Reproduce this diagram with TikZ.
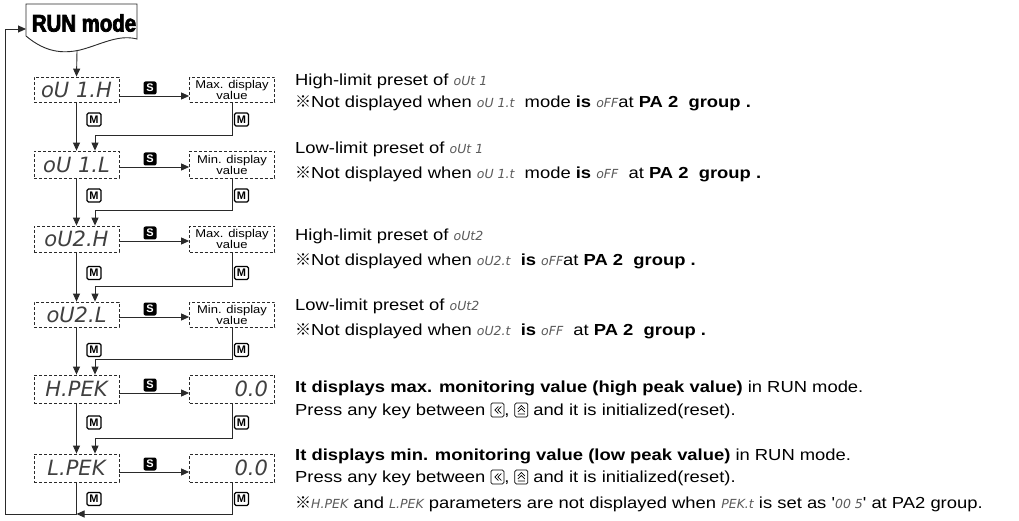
\documentclass[tikz,border=0pt]{standalone}
\usepackage{fontspec}
\setmainfont{Liberation Sans}
\newfontfamily\descfont{Liberation Sans}[FakeStretch=1.15]
\newfontfamily\runfont{Liberation Sans Bold}[FakeStretch=0.85,FakeBold=3]
\newfontfamily\segfont{DejaVu Sans}
\newfontfamily\rmkfont{Noto Sans CJK SC}
\usetikzlibrary{arrows.meta,calc}
\definecolor{linec}{HTML}{2A2A2A}
\definecolor{segc}{HTML}{5A5A5A}
\newcommand{\segtxt}[1]{{\segfont\itshape\fontsize{12.5}{12.5}\selectfont\color{segc}#1}}
\newcommand{\dispfnt}{\segfont\itshape\fontsize{21}{21}\selectfont\color{black!75}}
\newcommand{\refmk}{{\rmkfont ※}}
\newcommand{\keyL}{\tikz[x=1pt,y=1pt,baseline=1.5pt,line width=0.7pt]{\draw[rounded corners=1.5pt] (0,0) rectangle (13,14); \draw (7.5,3.5)--(4,7)--(7.5,10.5) (10.5,3.5)--(7,7)--(10.5,10.5);}}
\newcommand{\keyU}{\tikz[x=1pt,y=1pt,baseline=1.5pt,line width=0.7pt]{\draw[rounded corners=1.5pt] (0,0) rectangle (13,14); \draw (3,5)--(6.5,8.5)--(10,5) (3,8)--(6.5,11.5)--(10,8) (3,3)--(10,3);}}
\begin{document}
\begin{tikzpicture}[x=1pt,y=-1pt,
  disp/.style={draw=linec, dash pattern=on 3pt off 2pt, line width=0.8pt, minimum width=85pt, inner sep=0pt},
  arr/.style={draw=linec, line width=0.9pt, -{Triangle[length=8pt,width=7pt]}},
  ln/.style={draw=linec, line width=0.9pt},
  skey/.style={fill=black, rounded corners=2pt, minimum width=13pt, minimum height=13pt, inner sep=0pt, text=white, font=\fontsize{11}{11}\selectfont\bfseries},
  mkey/.style={draw=black, line width=1.1pt, fill=white, rounded corners=1.5pt, minimum width=14pt, minimum height=13pt, inner sep=0pt, font=\fontsize{11}{11}\selectfont\bfseries},
  desc/.style={anchor=base west, inner sep=0pt, font=\descfont\fontsize{16}{16}\selectfont},
  small/.style={align=center, font=\descfont\fontsize{11.3}{11}\selectfont}
]
\useasboundingbox (0,0) rectangle (1019,521);
\fill[white] (0,0) rectangle (1019,521);

% RUN mode document shape
\draw[line width=0.9pt, draw=linec] (26,36) -- (26,4) -- (137,4) -- (137,39)
  .. controls (118,34) and (100,45) .. (80,50)
  .. controls (62,54) and (45,52) .. (26,36);
\node (run) at (84,23) {\runfont\fontsize{24}{24}\selectfont RUN mode};
\coordinate (runout) at (77,51);
\coordinate (runin) at (26,29);

% left display boxes
\node[disp, minimum height=25pt] (L1) at (76.5,89.5) {\dispfnt oU 1.H};
\node[disp, minimum height=27pt] (L2) at (76.5,164.5) {\dispfnt oU 1.L};
\node[disp, minimum height=26pt] (L3) at (76.5,239) {\dispfnt oU2.H};
\node[disp, minimum height=25pt] (L4) at (76.5,314.5) {\dispfnt oU2.L};
\node[disp, minimum height=28pt] (L5) at (76.5,389) {\dispfnt H.PEK};
\node[disp, minimum height=28pt] (L6) at (76.5,468) {\dispfnt L.PEK};

% right boxes
\node[disp, small, minimum height=25pt] (R1) at (232,89.5) {Max. display\\value};
\node[disp, small, minimum height=27pt] (R2) at (232,164.5) {Min. display\\value};
\node[disp, small, minimum height=26pt] (R3) at (232,239) {Max. display\\value};
\node[disp, small, minimum height=25pt] (R4) at (232,314.5) {Min. display\\value};
\node[disp, minimum height=28pt, text width=72pt, align=right] (R5) at (232,389) {\dispfnt 0.0};
\node[disp, minimum height=28pt, text width=72pt, align=right] (R6) at (232,468) {\dispfnt 0.0};

% S arrows
\foreach \i/\y in {1/96,2/167,3/241,4/317,5/393,6/472}{
  \draw[arr] (L\i.east |- 0,\y) -- (R\i.west |- 0,\y);
  \node[skey] (S\i) at (150,\y-8) {S};
}

% RUN -> first
\draw[arr] (runout) -- (L1.north);

% M transitions
\foreach \i/\j in {1/2,2/3,3/4,4/5,5/6}{
  \draw[arr] (L\i.south) -- (L\j.north);
  \draw[arr] (R\i.south) |- ([xshift=18.5pt,yshift=15pt]L\j.north) -- ([xshift=18.5pt]L\j.north);
}
\foreach \i/\y in {1/119.5,2/195.5,3/273,4/350,5/422.5,6/499}{
  \node[mkey] (ML\i) at (94,\y) {M};
  \node[mkey] (MR\i) at (241.5,\y) {M};
}

% return loop
\coordinate (bl) at (5,514);
\coordinate (bm) at (76.5,514);
\draw[arr] (R6.south) |- (bm);
\draw[arr] (L6.south) |- (bl) |- (runin);

% descriptions
\node[desc] (t1a) at (295,85.5) {High-limit preset of \segtxt{oUt 1}};
\node[desc] (t1b) at (295,107.5) {\refmk Not displayed when \segtxt{oU 1.t}\ \ mode \textbf{is} \segtxt{oFF}at \textbf{PA 2\ \ group .}};
\node[desc] (t2a) at (295,153.5) {Low-limit preset of \segtxt{oUt 1}};
\node[desc] (t2b) at (295,178.5) {\refmk Not displayed when \segtxt{oU 1.t}\ \ mode \textbf{is} \segtxt{oFF}\ \ at \textbf{PA 2\ \ group .}};
\node[desc] (t3a) at (295,240.5) {High-limit preset of \segtxt{oUt2}};
\node[desc] (t3b) at (295,265.5) {\refmk Not displayed when \segtxt{oU2.t}\ \ \textbf{is} \segtxt{oFF}at \textbf{PA 2\ \ group .}};
\node[desc] (t4a) at (295,310.5) {Low-limit preset of \segtxt{oUt2}};
\node[desc] (t4b) at (295,335.5) {\refmk Not displayed when \segtxt{oU2.t}\ \ \textbf{is} \segtxt{oFF}\ \ at \textbf{PA 2\ \ group .}};
\node[desc] (t5a) at (295,392.5) {\textbf{It displays max. monitoring value (high peak value)} in RUN mode.};
\node[desc] (t5b) at (295,415.5) {Press any key between \keyL, \keyU\ and it is initialized(reset).};
\node[desc] (t6a) at (295,460.5) {\textbf{It displays min. monitoring value (low peak value)} in RUN mode.};
\node[desc] (t6b) at (295,482.5) {Press any key between \keyL, \keyU\ and it is initialized(reset).};
\node[desc] (t6c) at (295,508.5) {\refmk\segtxt{H.PEK} and \segtxt{L.PEK} parameters are not displayed when \segtxt{PEK.t} is set as '\segtxt{00 5}' at PA2 group.};
\end{tikzpicture}
\end{document}
